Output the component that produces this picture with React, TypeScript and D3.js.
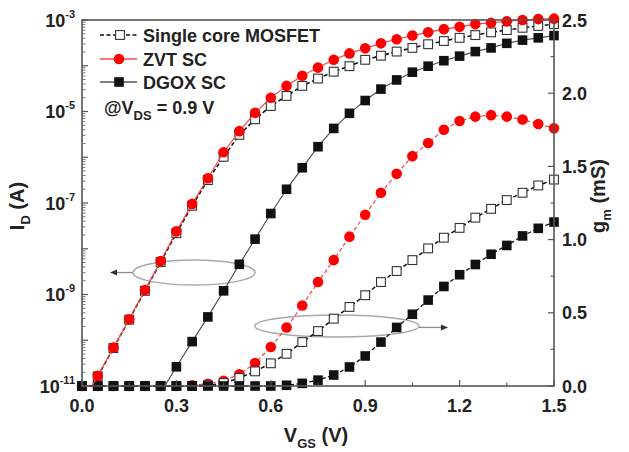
import React from "react";
import * as d3 from "d3";

// ---------- data ----------
const vgs = [0, 0.05, 0.1, 0.15, 0.2, 0.25, 0.3, 0.35, 0.4, 0.45, 0.5, 0.55, 0.6, 0.65, 0.7, 0.75, 0.8, 0.85, 0.9, 0.95, 1.0, 1.05, 1.1, 1.15, 1.2, 1.25, 1.3, 1.35, 1.4, 1.45, 1.5];

// log10(I_D / A)
const idExpSingle = [-11.4, -10.79, -10.17, -9.55, -8.92, -8.29, -7.66, -7.06, -6.5, -5.99, -5.51, -5.17, -4.88, -4.66, -4.44, -4.28, -4.13, -4.01, -3.87, -3.78, -3.69, -3.61, -3.53, -3.46, -3.39, -3.33, -3.27, -3.22, -3.17, -3.13, -3.09];
const idExpZvt = [-11.4, -10.775, -10.16, -9.54, -8.9, -8.27, -7.62, -7.02, -6.46, -5.89, -5.43, -5.03, -4.7, -4.44, -4.22, -4.04, -3.87, -3.73, -3.62, -3.51, -3.42, -3.34, -3.27, -3.2, -3.15, -3.09, -3.06, -3.03, -3.0, -2.98, -2.97];
const idExpDgox = [null, null, null, null, null, -11.15, -10.58, -10.03, -9.49, -8.92, -8.34, -7.79, -7.23, -6.7, -6.23, -5.77, -5.37, -5.04, -4.76, -4.51, -4.31, -4.14, -4.01, -3.89, -3.79, -3.69, -3.61, -3.51, -3.44, -3.39, -3.34];

// g_m (mS)
const gmSingle = [0, 0, 0, 0, 0, 0, 0, 0, 0.005, 0.02, 0.055, 0.1, 0.155, 0.22, 0.3, 0.375, 0.46, 0.54, 0.62, 0.71, 0.785, 0.86, 0.94, 1.013, 1.08, 1.15, 1.21, 1.27, 1.32, 1.37, 1.41];
const gmZvt = [0, 0, 0, 0, 0, 0, 0, 0.005, 0.015, 0.036, 0.08, 0.157, 0.266, 0.4, 0.55, 0.71, 0.86, 1.02, 1.17, 1.32, 1.45, 1.57, 1.66, 1.75, 1.81, 1.84, 1.85, 1.84, 1.82, 1.79, 1.76];
const gmDgox = [0, 0, 0, 0, 0, 0, 0, 0, 0, 0, 0, 0, 0, 0.005, 0.018, 0.04, 0.075, 0.13, 0.205, 0.3, 0.4, 0.49, 0.587, 0.68, 0.76, 0.83, 0.9, 0.96, 1.025, 1.077, 1.12];

const xTicks = [0, 0.3, 0.6, 0.9, 1.2, 1.5];
const xMinor = [0.15, 0.45, 0.75, 1.05, 1.35];
const yLeftLabelExps = [-11, -9, -7, -5, -3];
const yRightTicks = [0, 0.5, 1.0, 1.5, 2.0, 2.5];
const yRightMinor = [0.25, 0.75, 1.25, 1.75, 2.25];

const legendNames = ["Single core MOSFET", "ZVT SC", "DGOX SC"];

// ---------- layout ----------
const W = 629, H = 452;
const L = 82, R = 554, T = 20, B = 386;
const FONT = "'Liberation Sans', Arial, Helvetica, sans-serif";

const x = d3.scaleLinear().domain([0, 1.5]).range([L, R]);
const yL = d3.scaleLog().domain([1e-11, 1e-3]).range([B, T]);
const yR = d3.scaleLinear().domain([0, 2.5]).range([B, T]);

type Pt = { v: number; y: number };

function idPoints(exps: (number | null)[]): Pt[] {
  const out: Pt[] = [];
  exps.forEach((e, i) => {
    if (e !== null) out.push({ v: vgs[i], y: yL(Math.pow(10, e)) });
  });
  return out;
}
function gmPoints(vals: number[]): Pt[] {
  return vals.map((g, i) => ({ v: vgs[i], y: yR(g) }));
}

const lineGen = d3.line<Pt>().x((d) => x(d.v)).y((d) => d.y);

const RED = "#ff0000";
const RED_LINE = "#f04848";
const BLK = "#111";
const GRAY_LINE = "#555";

function Circle({ cx, cy }: { cx: number; cy: number }) {
  return <circle cx={cx} cy={cy} r={5.3} fill={RED} />;
}
function OpenSq({ cx, cy }: { cx: number; cy: number }) {
  return <rect x={cx - 4.4} y={cy - 4.4} width={8.8} height={8.8} fill="#fff" stroke="#333" strokeWidth={1.1} />;
}
function FillSq({ cx, cy }: { cx: number; cy: number }) {
  return <rect x={cx - 4.8} y={cy - 4.8} width={9.6} height={9.6} fill={BLK} />;
}

function Series({ pts, kind, stroke, dash, width, clip, markerFilter }: any) {
  const mpts: Pt[] = markerFilter ? pts.filter((p: Pt) => p.y <= B + 0.5) : pts;
  return (
    <g>
      <path d={lineGen(pts) || ""} fill="none" stroke={stroke} strokeWidth={width} strokeDasharray={dash} clipPath={clip ? "url(#plotclip)" : undefined} />
      {mpts.map((p, i) => {
        const cx = x(p.v), cy = p.y;
        if (kind === "circle") return <Circle key={i} cx={cx} cy={cy} />;
        if (kind === "open") return <OpenSq key={i} cx={cx} cy={cy} />;
        return <FillSq key={i} cx={cx} cy={cy} />;
      })}
    </g>
  );
}

export default function App() {
  const decades = d3.range(-11, -2);
  const minorLog: number[] = [];
  decades.slice(0, -1).forEach((e) => {
    for (let k = 2; k <= 9; k++) minorLog.push(k * Math.pow(10, e));
  });

  // annotations in data coordinates
  const ellL = { cx: x(0.356), cy: yL(Math.pow(10, -8.52)), rx: x(0.356 + 0.194) - x(0.356), ry: 12.5 };
  const arrL = { x1: x(0.162), x2: x(0.089), y: ellL.cy };
  const ellR = { cx: x(0.81), cy: yR(0.41), rx: x(0.81 + 0.261) - x(0.81), ry: 11 };
  const arrR = { x1: x(1.071), x2: x(1.163), y: yR(0.40) };

  return (
    <svg width={W} height={H} style={{ position: "absolute", left: 0, top: 0, background: "#fff" }} fontFamily={FONT}>
      <defs>
        <clipPath id="plotclip">
          <rect x={L} y={0} width={R - L + 10} height={B} />
        </clipPath>
      </defs>
      <rect x={0} y={0} width={W} height={H} fill="#fff" />

      {/* annotation ellipses */}
      <ellipse cx={ellL.cx} cy={ellL.cy} rx={ellL.rx} ry={ellL.ry} fill="none" stroke="#a8a8a8" strokeWidth={1.5} />
      <line x1={arrL.x1} y1={arrL.y} x2={arrL.x2 + 6} y2={arrL.y} stroke="#8a8a8a" strokeWidth={1.3} />
      <path d={`M${arrL.x2},${arrL.y} l7,-3 l0,6 z`} fill="#333" />
      <ellipse cx={ellR.cx} cy={ellR.cy} rx={ellR.rx} ry={ellR.ry} fill="none" stroke="#a8a8a8" strokeWidth={1.5} />
      <line x1={arrR.x1} y1={arrR.y} x2={arrR.x2 - 6} y2={arrR.y} stroke="#8a8a8a" strokeWidth={1.3} />
      <path d={`M${arrR.x2},${arrR.y} l-7,-3 l0,6 z`} fill="#333" />

      {/* gm curves */}
      <Series pts={gmPoints(gmZvt)} kind="circle" stroke={RED_LINE} dash="4,2.5" width={1.2} />
      <Series pts={gmPoints(gmSingle)} kind="open" stroke={BLK} dash="4,2.5" width={1.5} />
      <Series pts={gmPoints(gmDgox)} kind="fill" stroke={BLK} dash="4,2.5" width={1.3} />

      {/* Id curves */}
      <Series pts={idPoints(idExpSingle)} kind="open" stroke={BLK} dash="4,2.5" width={1.6} clip markerFilter />
      <Series pts={idPoints(idExpDgox)} kind="fill" stroke={GRAY_LINE} width={1.2} clip markerFilter />
      <Series pts={idPoints(idExpZvt)} kind="circle" stroke={RED_LINE} width={1.2} clip markerFilter />

      {/* frame */}
      <rect x={L} y={T} width={R - L} height={B - T} fill="none" stroke="#555" strokeWidth={1.6} />

      {/* left axis ticks */}
      {decades.map((e) => (
        <line key={"ml" + e} x1={L} x2={L + 6} y1={yL(Math.pow(10, e))} y2={yL(Math.pow(10, e))} stroke="#555" strokeWidth={1.2} />
      ))}
      {minorLog.map((v, i) => (
        <line key={"nl" + i} x1={L} x2={L + 3.5} y1={yL(v)} y2={yL(v)} stroke="#666" strokeWidth={0.9} />
      ))}
      {yLeftLabelExps.map((e) => (
        <text key={"tl" + e} x={L - 7} y={yL(Math.pow(10, e)) + 6.5} textAnchor="end" fontSize={18} fontWeight="bold" fill="#222">
          10<tspan fontSize={11} dy={-9}>{String(e)}</tspan>
        </text>
      ))}

      {/* right axis ticks */}
      {yRightTicks.map((g) => (
        <line key={"mr" + g} x1={R} x2={R - 6} y1={yR(g)} y2={yR(g)} stroke="#555" strokeWidth={1.2} />
      ))}
      {yRightMinor.map((g) => (
        <line key={"nr" + g} x1={R} x2={R - 3.5} y1={yR(g)} y2={yR(g)} stroke="#555" strokeWidth={1.1} />
      ))}
      {yRightTicks.map((g) => (
        <text key={"tr" + g} x={R + 8} y={yR(g) + 6.5} fontSize={18} fontWeight="bold" fill="#222">
          {g.toFixed(1)}
        </text>
      ))}

      {/* bottom axis ticks */}
      {xTicks.map((v) => (
        <line key={"mx" + v} x1={x(v)} x2={x(v)} y1={B} y2={B - 6} stroke="#555" strokeWidth={1.2} />
      ))}
      {xMinor.map((v) => (
        <line key={"nx" + v} x1={x(v)} x2={x(v)} y1={B} y2={B - 3.5} stroke="#555" strokeWidth={1.1} />
      ))}
      {xTicks.map((v) => (
        <text key={"tx" + v} x={x(v)} y={412} textAnchor="middle" fontSize={18} fontWeight="bold" fill="#222">
          {v.toFixed(1)}
        </text>
      ))}

      {/* axis titles */}
      <text x={316} y={442} textAnchor="middle" fontSize={20} fontWeight="bold" fill="#222">
        V<tspan fontSize={13} dy={6}>GS</tspan><tspan dy={-6}> (V)</tspan>
      </text>
      <text transform="translate(24,206) rotate(-90)" textAnchor="middle" fontSize={20} fontWeight="bold" fill="#222">
        I<tspan fontSize={13} dy={6}>D</tspan><tspan dy={-6}> (A)</tspan>
      </text>
      <text transform="translate(605,196) rotate(-90)" textAnchor="middle" fontSize={20} fontWeight="bold" fill="#222">
        g<tspan fontSize={13} dy={6}>m</tspan><tspan dy={-6}> (mS)</tspan>
      </text>

      {/* legend */}
      <g>
        <line x1={100} x2={137} y1={35} y2={35} stroke={BLK} strokeWidth={1.6} strokeDasharray="4,2.5" />
        <OpenSq cx={120} cy={35} />
        <text x={143} y={41.5} fontSize={18} fontWeight="bold" fill="#222">{legendNames[0]}</text>

        <line x1={100} x2={137} y1={59} y2={59} stroke={RED_LINE} strokeWidth={1.3} />
        <Circle cx={119} cy={59} />
        <text x={143} y={65.5} fontSize={18} fontWeight="bold" fill="#222">{legendNames[1]}</text>

        <line x1={100} x2={137} y1={82} y2={82} stroke={GRAY_LINE} strokeWidth={1.3} />
        <FillSq cx={119} cy={82} />
        <text x={143} y={88.5} fontSize={18} fontWeight="bold" fill="#222">{legendNames[2]}</text>

        <text x={104} y={114} fontSize={18} fontWeight="bold" fill="#222">
          @V<tspan fontSize={13} dy={6}>DS</tspan><tspan dy={-6}> = 0.9 V</tspan>
        </text>
      </g>
    </svg>
  );
}
